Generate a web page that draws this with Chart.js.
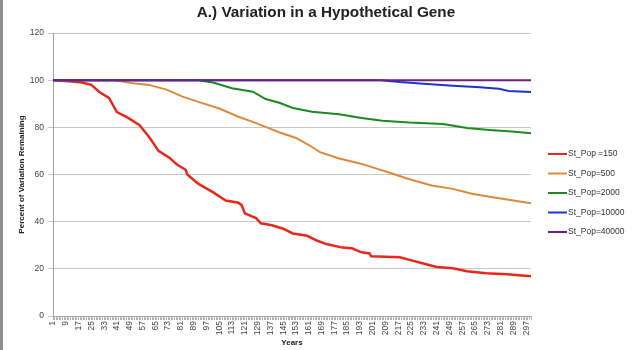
<!DOCTYPE html>
<html>
<head>
<meta charset="utf-8">
<script src="https://cdn.jsdelivr.net/npm/chart.js@4.4.1/dist/chart.umd.min.js"></script>
<style>
html, body { margin: 0; padding: 0; background: #fff; }
#wrap { position: relative; width: 640px; height: 350px; }
#edge { position: absolute; left: 0; top: 0; width: 3px; height: 350px; background: #8e8e8e; }
</style>
</head>
<body>
<div id="wrap">
<canvas id="geneChart" width="640" height="350"></canvas>
<div id="edge"></div>
</div>
<script>
// values (year, percent remaining)
var chartTitle = 'A.) Variation in a Hypothetical Gene';
var seriesNames = ['St_Pop =150', 'St_Pop=500', 'St_Pop=2000', 'St_Pop=10000', 'St_Pop=40000'];
var seriesColors = ['#e8281a', '#e0883a', '#1a8a1e', '#1c34d0', '#6c1f86'];

var redYears = [1, 11, 19, 25, 30, 36, 41, 48, 55, 61, 67, 74, 79, 84, 85, 92, 101, 109, 117, 119, 121, 128, 131, 138, 145, 151, 160, 166, 172, 182, 188, 194, 199, 200, 218, 224, 232, 241, 251, 260, 272, 285, 300];
var redVals = [100, 99.5, 99, 98, 95, 92.5, 86.5, 84, 81, 76, 70, 67, 64, 62, 60, 56, 52.5, 49, 48, 47, 43.5, 41.5, 39.3, 38.5, 37, 35, 34, 32, 30.5, 29, 28.7, 27, 26.5, 25.3, 24.9, 23.8, 22.4, 20.8, 20.2, 19, 18.1, 17.7, 16.9];

var orangeYears = [1, 40, 50, 61, 72, 82, 92, 105, 117, 126, 134, 142, 153, 161, 168, 180, 193, 203, 213, 222, 230, 238, 251, 263, 276, 288, 300];
var orangeVals = [100, 100, 98.8, 98, 96, 93, 90.8, 88, 84.5, 82.3, 80.2, 78, 75.5, 72.5, 69.5, 66.8, 64.7, 62.6, 60.4, 58.4, 56.8, 55.3, 53.9, 51.8, 50.4, 49.1, 47.8];

var greenYears = [1, 92, 101, 113, 126, 134, 143, 151, 163, 180, 194, 207, 224, 245, 260, 276, 288, 300];
var greenVals = [100, 100, 99, 96.6, 95.1, 92, 90.3, 88.2, 86.6, 85.5, 84, 82.8, 82, 81.4, 79.7, 78.8, 78.2, 77.5];

var blueYears = [1, 206, 218, 235, 251, 268, 280, 286, 300];
var blueVals = [100, 100, 99.2, 98.4, 97.6, 97, 96.4, 95.4, 95];

var purpleYears = [1, 300];
var purpleVals = [100, 100];

var xTickLabels = [1, 9, 17, 25, 33, 41, 49, 57, 65, 73, 81, 89, 97, 105, 113, 121, 129, 137, 145, 153, 161, 169, 177, 185, 193, 201, 209, 217, 225, 233, 241, 249, 257, 265, 273, 281, 289, 297];
var yTicks = [0, 20, 40, 60, 80, 100, 120];
var firstYear = 1;
var lastYear = 300;

function toPoints(years, vals)
{
    return years.map(function(y, i){ return {x: y, y: vals[i]}; });
}

var allYears = [[redYears, redVals], [orangeYears, orangeVals], [greenYears, greenVals], [blueYears, blueVals], [purpleYears, purpleVals]];

var datasets = allYears.map(function(s, i){
    return {
        label: seriesNames[i],
        data: toPoints(s[0], s[1]),
        borderColor: seriesColors[i],
        backgroundColor: seriesColors[i],
        borderWidth: i === 0 ? 2.5 : 2,
        pointRadius: 0,
        tension: 0,
        order: allYears.length - 1 - i
    };
});

//title and legend drawn like the spreadsheet ones (title centred on the whole picture)
var sideBits = {
    id: 'sideBits',
    afterDraw: function(chart)
    {
        var ctx = chart.ctx;
        ctx.save();
        ctx.fillStyle = '#222';
        ctx.font = 'bold 15.3px "Liberation Sans", Arial, sans-serif';
        ctx.textAlign = 'center';
        ctx.textBaseline = 'middle';
        ctx.fillText(chartTitle, 326, 13);

        var x0 = chart.chartArea.right + 17;
        var y0 = 154;
        ctx.font = '8.5px "Liberation Sans", Arial, sans-serif';
        ctx.textAlign = 'left';
        chart.data.datasets.forEach(function(ds, i){
            var y = y0 + i * 19.5;
            ctx.strokeStyle = ds.borderColor;
            ctx.lineWidth = 2;
            ctx.beginPath();
            ctx.moveTo(x0, y);
            ctx.lineTo(x0 + 19, y);
            ctx.stroke();
            ctx.fillStyle = '#333';
            ctx.fillText(ds.label, x0 + 20, y);
        });
        ctx.restore();
    }
};

var chart = new Chart(document.getElementById('geneChart'), {
    type: 'line',
    data: { datasets: datasets },
    plugins: [sideBits],
    options: {
        responsive: false,
        devicePixelRatio: 1,
        animation: false,
        layout: { padding: { left: 0, right: 109, top: 33, bottom: 0 } },
        plugins: {
            legend: { display: false },
            tooltip: { enabled: false },
            title: { display: false }
        },
        scales: {
            x: {
                type: 'linear',
                min: firstYear,
                max: lastYear,
                afterBuildTicks: function(scale){
                    var t = [];
                    for (var v = firstYear; v <= lastYear; v++) t.push({value: v});
                    scale.ticks = t;
                },
                afterFit: function(scale){ scale.height = 34; },
                ticks: {
                    autoSkip: false,
                    minRotation: 90,
                    maxRotation: 90,
                    padding: 1,
                    color: '#444',
                    font: { family: '"Liberation Sans", Arial, sans-serif', size: 8.5 },
                    callback: function(v){ return xTickLabels.indexOf(v) >= 0 ? String(v) : ''; }
                },
                grid: { drawOnChartArea: false, tickLength: 4, color: '#b4b4b4' },
                border: { color: '#a8a8a8' },
                title: {
                    display: true,
                    text: 'Years',
                    color: '#222',
                    font: { family: '"Liberation Sans", Arial, sans-serif', size: 8, weight: 'bold', lineHeight: 1.2 },
                    padding: { top: 0, bottom: 2 }
                }
            },
            y: {
                min: 0,
                max: 120,
                afterBuildTicks: function(scale){
                    scale.ticks = yTicks.map(function(v){ return {value: v}; });
                },
                afterFit: function(scale){ scale.width = 53; },
                ticks: {
                    padding: 4,
                    color: '#444',
                    font: { family: '"Liberation Sans", Arial, sans-serif', size: 8.5 }
                },
                grid: { color: '#c8c8c8', tickLength: 5, lineWidth: 1 },
                border: { color: '#a0a0a0' },
                title: {
                    display: true,
                    text: 'Percent of Variation Remaining',
                    color: '#222',
                    font: { family: '"Liberation Sans", Arial, sans-serif', size: 8, weight: 'bold', lineHeight: 1.2 },
                    padding: { top: 17, bottom: 0 }
                }
            }
        }
    }
});
</script>
</body>
</html>
